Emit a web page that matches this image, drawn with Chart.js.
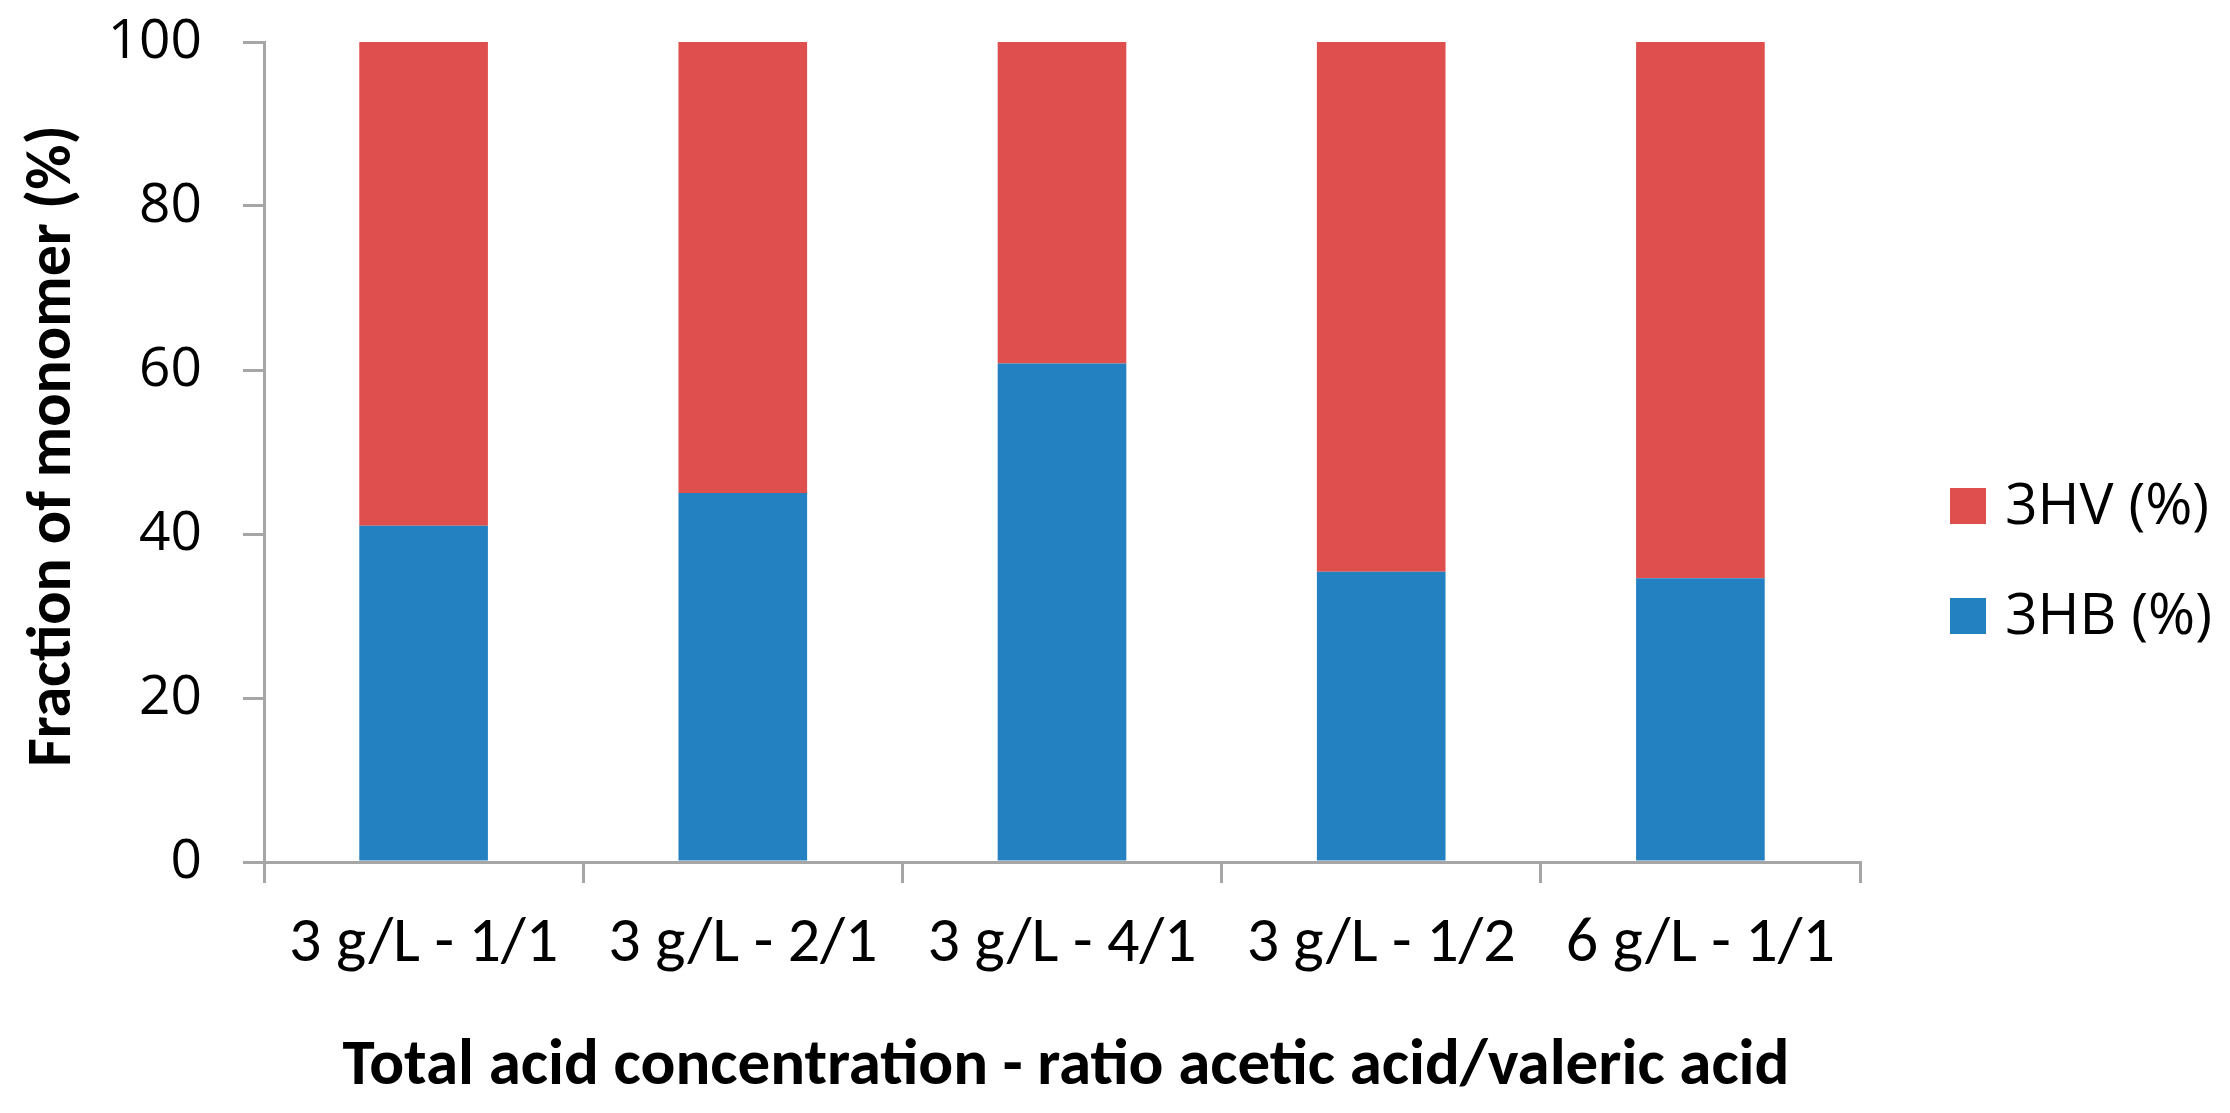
<!DOCTYPE html>
<html>
<head>
<meta charset="utf-8">
<script src="https://cdn.jsdelivr.net/npm/chart.js@4"></script>
<style>
  html, body { margin: 0; padding: 0; background: #ffffff; }
  #wrap { width: 2230px; height: 1113px; position: relative; }
  canvas { display: block; }
</style>
</head>
<body>
<div id="wrap"><canvas id="c" width="2230" height="1113"></canvas></div>
<script>
// ---- Data ----
const categories = ["3 g/L - 1/1", "3 g/L - 2/1", "3 g/L - 4/1", "3 g/L - 1/2", "6 g/L - 1/1"];
const hbValues = [41.0, 45.0, 60.8, 35.4, 34.6];   // 3HB (%)
const hvValues = [59.0, 55.0, 39.2, 64.6, 65.4];   // 3HV (%)
const seriesNames = ["3HB (%)", "3HV (%)"];
const yTicks = [0, 20, 40, 60, 80, 100];
const xTitle = "Total acid concentration - ratio acetic acid/valeric acid";
const yTitle = "Fraction of monomer (%)";

const RED = '#DE4F4E';
const BLUE = '#2481C1';
const AXIS = '#A6A6A6';

const annotPlugin = {
  id: 'legendAndTitles',
  afterDraw(chart) {
    const ctx = chart.ctx;
    const area = chart.chartArea;
    ctx.save();
    // legend (3HV on top, 3HB below)
    const order = [1, 0];
    const x0 = 1950, sq = 36;
    const rows = [488, 598];
    ctx.font = '57px "Open Sans"';
    ctx.textBaseline = 'alphabetic';
    ctx.textAlign = 'left';
    order.forEach((di, i) => {
      const ds = chart.data.datasets[di];
      ctx.fillStyle = ds.backgroundColor;
      ctx.fillRect(x0, rows[i], sq, sq);
      ctx.fillStyle = '#000000';
      ctx.fillText(ds.label, 2005, rows[i] + sq);
    });
    // x-axis title
    ctx.font = 'bold 65px Carlito';
    ctx.textAlign = 'center';
    ctx.fillText(xTitle, (area.left + area.right) / 2 + 4, 1084);
    // y-axis title
    ctx.font = 'bold 62px Carlito';
    ctx.translate(70, (area.top + area.bottom) / 2 - 6);
    ctx.rotate(-Math.PI / 2);
    ctx.fillText(yTitle, 0, 0);
    ctx.restore();
  }
};

new Chart(document.getElementById('c'), {
  type: 'bar',
  data: {
    labels: categories,
    datasets: [
      { label: seriesNames[0], data: hbValues, backgroundColor: BLUE, borderWidth: 0 },
      { label: seriesNames[1], data: hvValues, backgroundColor: RED, borderWidth: 0 }
    ]
  },
  options: {
    responsive: false,
    animation: false,
    devicePixelRatio: 1,
    layout: { autoPadding: false, padding: { left: 0, right: 370, top: 42, bottom: 0 } },
    plugins: {
      legend: { display: false },
      tooltip: { enabled: false },
      title: { display: false }
    },
    datasets: { bar: { categoryPercentage: 1.0, barPercentage: 0.403 } },
    scales: {
      x: {
        stacked: true,
        offset: true,
        afterFit(scale) { scale.height = 251; scale.paddingLeft = 0; scale.paddingRight = 0; },
        grid: { display: true, offset: true, drawOnChartArea: false, drawTicks: true, tickLength: 21, lineWidth: 3, color: AXIS },
        border: { display: true, color: AXIS, width: 3 },
        ticks: { color: '#000000', font: { family: 'Carlito', size: 64 }, padding: 24, maxRotation: 0, autoSkip: false }
      },
      y: {
        stacked: true,
        min: 0,
        max: 100,
        afterFit(scale) { scale.width = 264; scale.paddingTop = 0; scale.paddingBottom = 0; },
        afterBuildTicks(scale) { scale.ticks = yTicks.map(v => ({ value: v })); },
        grid: { display: true, drawOnChartArea: false, drawTicks: true, tickLength: 21, lineWidth: 3, color: AXIS },
        border: { display: true, color: AXIS, width: 3 },
        ticks: { color: '#000000', font: { family: '"Open Sans"', size: 55 }, padding: 41 },
        title: { display: false }
      }
    }
  },
  plugins: [annotPlugin]
});
</script>
</body>
</html>
